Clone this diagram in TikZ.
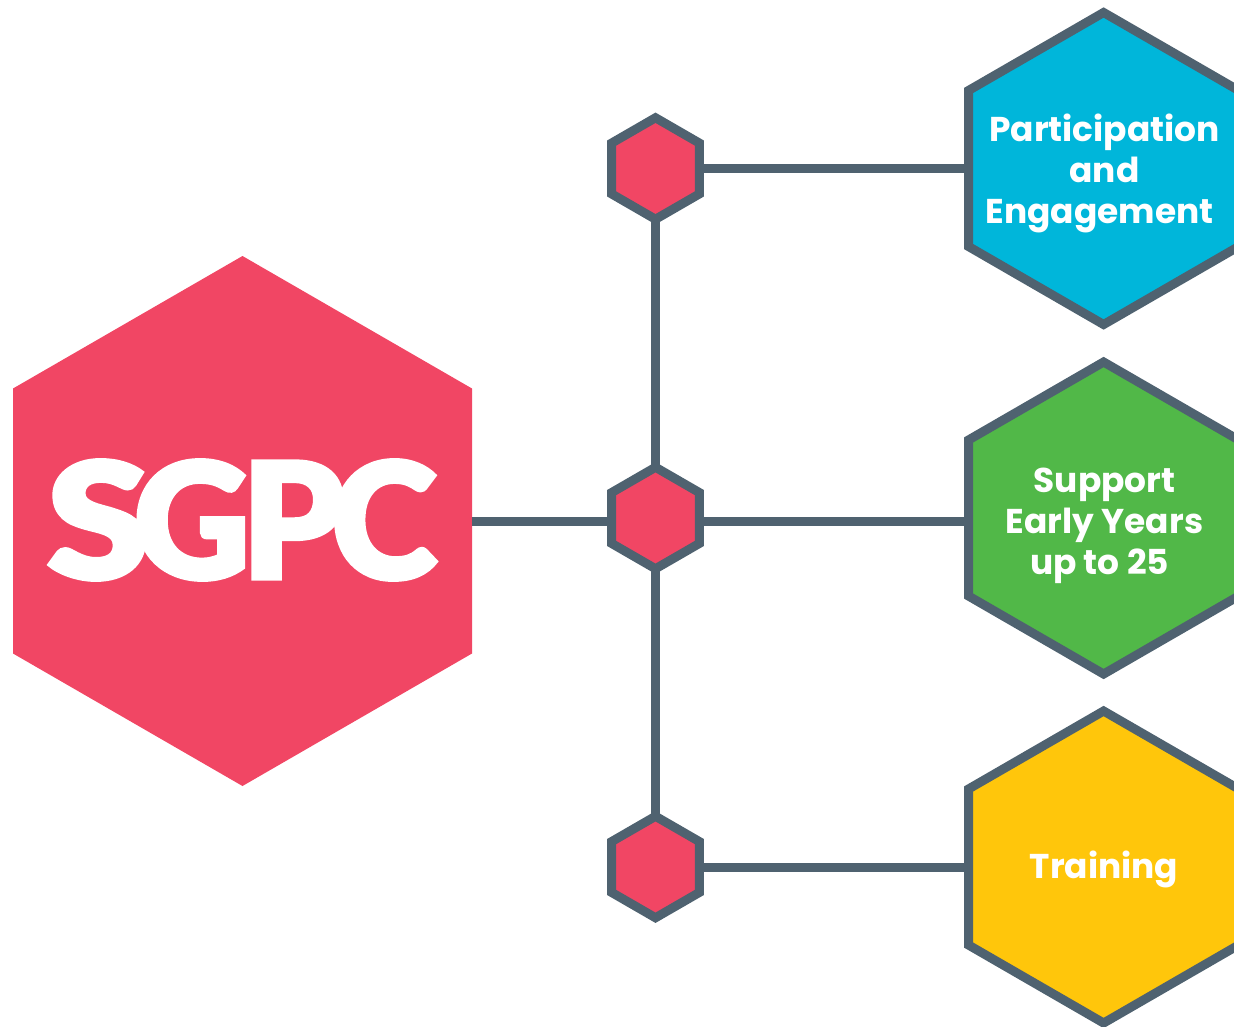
\documentclass[tikz,border=0pt]{standalone}
\usepackage{fontspec}
\setmainfont{Poppins}
\newfontfamily\logofont[FakeBold=2]{Lato Black}
\usetikzlibrary{shapes.geometric}
\definecolor{hexred}{HTML}{F14664}
\definecolor{hexline}{HTML}{4F6270}
\definecolor{hexblue}{HTML}{00B6DA}
\definecolor{hexgreen}{HTML}{51B848}
\definecolor{hexyellow}{HTML}{FFC60B}
\tikzset{
  hexbase/.style = {shape=regular polygon, regular polygon sides=6, shape border rotate=30,
    inner sep=0pt, outer sep=0pt},
  hexlink/.style = {hexbase, draw=hexline, line width=9pt, minimum size=101.5pt, fill=hexred},
  hexarea/.style = {hexbase, draw=hexline, line width=9pt, minimum size=312pt},
  hexlabel/.style = {text=white, align=center, inner sep=0pt,
    font=\bfseries\fontsize{34.4}{41}\selectfont},
  logoletter/.style = {text=white, inner sep=0pt, anchor=base,
    font=\logofont\fontsize{162}{162}\selectfont},
  linkline/.style = {draw=hexline, line width=9pt}
}
\begin{document}
\begin{tikzpicture}[x=1pt,y=-1pt]
  \useasboundingbox (0,0) rectangle (1234,1026);
  \clip (0,0) rectangle (1234,1026);
  \node[hexbase, fill=hexred, minimum size=530pt] (sgpc) at (242.5,521) {};
  \node[hexlink] (hubtop) at (655.5,168.5) {};
  \node[hexlink] (hubmid) at (655.5,518) {};
  \node[hexlink] (hubbot) at (655.5,867) {};
  \node[hexarea, fill=hexblue] (part) at (1103.6,168.5) {};
  \node[hexarea, fill=hexgreen] (early) at (1103.6,518) {};
  \node[hexarea, fill=hexyellow] (train) at (1103.6,867) {};
  \draw[linkline] (sgpc.east) -- (sgpc.east -| hubmid.west);
  \draw[linkline] (hubtop.south) -- (hubmid.north);
  \draw[linkline] (hubmid.south) -- (hubbot.north);
  \draw[linkline] (hubtop.east) -- (part.west);
  \draw[linkline] (sgpc.east -| hubmid.east) -- (sgpc.east -| early.west);
  \draw[linkline] (hubbot.east) -- (train.west);
  % labels sit a little under the middle
  \node[hexlabel] (parttext) at (1104.5,173.5) {Participation\\and\\Engagement\hspace*{10pt}};
  \node[hexlabel] (earlytext) at (1104.5,525.5) {Support\\Early Years\\up to 25\hspace*{10pt}};
  \node[hexlabel] (traintext) at (1104,869.5) {Training};
  % letters of the logo overlap
  \node[logoletter, xscale=1.15] (logos) at (98,579) {S};
  \node[logoletter] (logog) at (192,579) {G};
  \node[logoletter] (logop) at (293,579) {P};
  \node[logoletter] (logoc) at (384,579) {C};
\end{tikzpicture}
\end{document}
